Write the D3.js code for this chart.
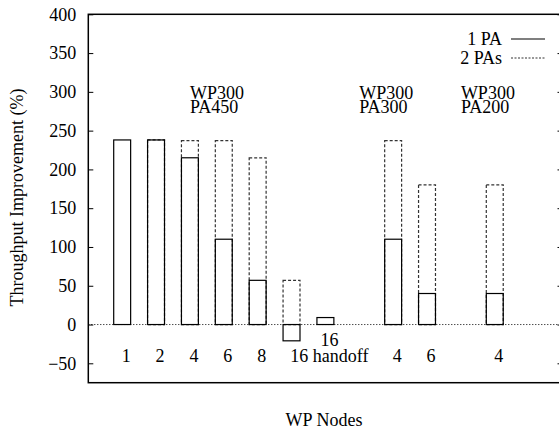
<!DOCTYPE html>
<html>
<head>
<meta charset="utf-8">
<script src="https://cdn.jsdelivr.net/npm/d3@7"></script>
<style>
  body { margin: 0; background: #fff; }
  svg text { font-family: "Liberation Serif", "Times New Roman", serif; font-size: 18px; fill: #000; }
</style>
</head>
<body>
<svg id="chart" width="559" height="430"></svg>
<script>
// bar slots (gnuplot style x coords)
const xPos = [1, 2, 3, 4, 5, 6, 7, 9, 10, 12];
// throughput improvement with 1 PA (solid) and 2 PAs (dashed)
const onePA = [238, 238, 215, 110, 57, -21, 9, 110, 40, 40];
const twoPAs = [null, 238, 237, 237, 215, 57, null, 237, 180, 180];

// x tick labels
const tickPos = [1, 2, 3, 4, 5, 7, 9, 10, 12];
const tickText = ["1", "2", "4", "6", "8", "16 handoff", "4", "6", "4"];
const yTicks = [-50, 0, 50, 100, 150, 200, 250, 300, 350, 400];

// group annotations
const groupPos = [3, 8, 11];
const groupWP = ["WP300", "WP300", "WP300"];
const groupPA = ["PA450", "PA300", "PA200"];

const legendNames = ["1 PA", "2 PAs"];

const svg = d3.select("#chart");
const margin = {left: 88.3, top: 14.3, right: -3.5, bottom: 47.3};
const W = 559, H = 430;

const x = d3.scaleLinear().domain([0, 14]).range([margin.left, W - margin.right]);
const y = d3.scaleLinear().domain([-75, 400]).range([H - margin.bottom, margin.top]);
const bw = x(0.5) - x(0);

// zero line
svg.append("line")
  .attr("x1", x(0)).attr("x2", x(14))
  .attr("y1", y(0)).attr("y2", y(0))
  .attr("stroke", "#000").attr("stroke-width", 1)
  .attr("stroke-dasharray", "1,2");

// 2 PAs dashed bars first
const barData = xPos.map((p, i) => ({p: p, a: onePA[i], b: twoPAs[i]}));

svg.selectAll(".bar2").data(barData.filter(d => d.b != null)).join("rect")
  .attr("class", "bar2")
  .attr("x", d => x(d.p) - bw / 2)
  .attr("width", bw)
  .attr("y", d => y(Math.max(0, d.b)))
  .attr("height", d => Math.abs(y(d.b) - y(0)))
  .attr("fill", "none")
  .attr("stroke", "#333").attr("stroke-width", 1.2)
  .attr("stroke-dasharray", "3,2");

svg.selectAll(".bar1").data(barData).join("rect")
  .attr("class", "bar1")
  .attr("x", d => x(d.p) - bw / 2)
  .attr("width", bw)
  .attr("y", d => y(Math.max(0, d.a)))
  .attr("height", d => Math.abs(y(d.a) - y(0)))
  .attr("fill", "none")
  .attr("stroke", "#000").attr("stroke-width", 1.2);

// border
svg.append("rect")
  .attr("x", x(0)).attr("y", y(400))
  .attr("width", x(14) - x(0)).attr("height", y(-75) - y(400))
  .attr("fill", "none").attr("stroke", "#000").attr("stroke-width", 1.5);

// y ticks, both sides, inward
const yAxisL = d3.axisLeft(y).tickValues(yTicks).tickSize(-5).tickPadding(12);
const gL = svg.append("g").attr("transform", `translate(${x(0)},0)`).call(yAxisL);
gL.select(".domain").remove();

const gR = svg.append("g").attr("transform", `translate(${x(14)},0)`)
  .call(d3.axisRight(y).tickValues(yTicks).tickSize(-5).tickFormat(""));
gR.select(".domain").remove();
svg.selectAll(".tick line").attr("stroke", "#000");
svg.selectAll("g").attr("font-family", null).attr("font-size", null);

// x tick labels
svg.selectAll(".xlab").data(tickPos).join("text")
  .attr("class", "xlab")
  .attr("x", d => x(d) + 4)
  .attr("y", 362)
  .attr("text-anchor", "middle")
  .text((d, i) => tickText[i]);
svg.append("text")
  .attr("x", x(7) + 4).attr("y", 346)
  .attr("text-anchor", "middle")
  .text("16");

// group annotations, two tight lines in one text
const grp = svg.selectAll(".grp").data(groupPos).join("text")
  .attr("class", "grp")
  .attr("x", d => x(d)).attr("y", 98.5);
grp.append("tspan").text((d, i) => groupWP[i]);
grp.append("tspan").attr("x", d => x(d)).attr("dy", 14).text((d, i) => groupPA[i]);

// legend
const leg = svg.selectAll(".leg").data(legendNames).join("g")
  .attr("class", "leg")
  .attr("transform", (d, i) => `translate(0,${44.5 + i * 19})`);
leg.append("text").attr("x", 502).attr("text-anchor", "end").text(d => d);
leg.append("line")
  .attr("x1", 511).attr("x2", 545)
  .attr("y1", -5.5).attr("y2", -5.5)
  .attr("stroke", (d, i) => i ? "#333" : "#000")
  .attr("stroke-width", 1.2)
  .attr("stroke-dasharray", (d, i) => i ? "2,1.5" : null);

// axis titles
svg.append("text")
  .attr("transform", "translate(23,197.5) rotate(-90)")
  .attr("text-anchor", "middle")
  .text("Throughput Improvement (%)");
svg.append("text")
  .attr("x", 324).attr("y", 426)
  .attr("text-anchor", "middle")
  .text("WP Nodes");
</script>
</body>
</html>
